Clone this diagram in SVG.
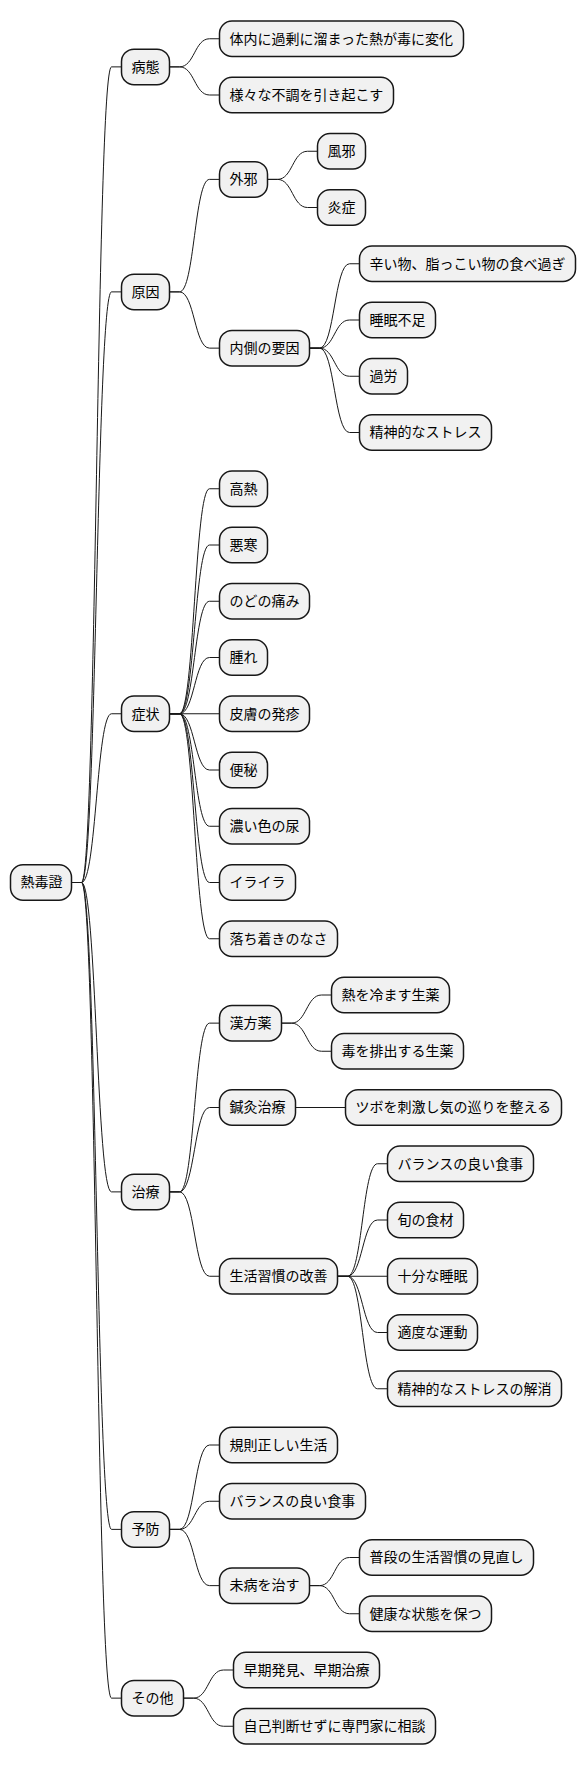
<svg xmlns="http://www.w3.org/2000/svg" width="586" height="1766" viewBox="0 0 586 1766">
<style>
.n rect{fill:#F1F1F1;stroke:#181818;stroke-width:1.5}
.n text{font-family:"Noto Sans CJK JP","Noto Sans CJK SC",sans-serif;font-size:14px;fill:#000}
#edges path{fill:none;stroke:#181818;stroke-width:1}
</style>
<rect width="586" height="1766" fill="#FFFFFF"/>
<g id="edges">
<path d="M71.5 882.5H81.5C96.5 882.5 96.5 66.875 111.5 66.875H121.5"/>
<path d="M71.5 882.5H81.5C96.5 882.5 96.5 291.875 111.5 291.875H121.5"/>
<path d="M71.5 882.5H81.5C96.5 882.5 96.5 713.75 111.5 713.75H121.5"/>
<path d="M71.5 882.5H81.5C96.5 882.5 96.5 1191.875 111.5 1191.875H121.5"/>
<path d="M71.5 882.5H81.5C96.5 882.5 96.5 1529.375 111.5 1529.375H121.5"/>
<path d="M71.5 882.5H81.5C96.5 882.5 96.5 1698.125 111.5 1698.125H121.5"/>
<path d="M169.5 66.875H179.5C194.5 66.875 194.5 38.75 209.5 38.75H219.5"/>
<path d="M169.5 66.875H179.5C194.5 66.875 194.5 95 209.5 95H219.5"/>
<path d="M169.5 291.875H179.5C194.5 291.875 194.5 179.375 209.5 179.375H219.5"/>
<path d="M169.5 291.875H179.5C194.5 291.875 194.5 348.125 209.5 348.125H219.5"/>
<path d="M267.5 179.375H277.5C292.5 179.375 292.5 151.25 307.5 151.25H317.5"/>
<path d="M267.5 179.375H277.5C292.5 179.375 292.5 207.5 307.5 207.5H317.5"/>
<path d="M309.5 348.125H319.5C334.5 348.125 334.5 263.75 349.5 263.75H359.5"/>
<path d="M309.5 348.125H319.5C334.5 348.125 334.5 320 349.5 320H359.5"/>
<path d="M309.5 348.125H319.5C334.5 348.125 334.5 376.25 349.5 376.25H359.5"/>
<path d="M309.5 348.125H319.5C334.5 348.125 334.5 432.5 349.5 432.5H359.5"/>
<path d="M169.5 713.75H179.5C194.5 713.75 194.5 488.75 209.5 488.75H219.5"/>
<path d="M169.5 713.75H179.5C194.5 713.75 194.5 545 209.5 545H219.5"/>
<path d="M169.5 713.75H179.5C194.5 713.75 194.5 601.25 209.5 601.25H219.5"/>
<path d="M169.5 713.75H179.5C194.5 713.75 194.5 657.5 209.5 657.5H219.5"/>
<path d="M169.5 713.75H219.5"/>
<path d="M169.5 713.75H179.5C194.5 713.75 194.5 770 209.5 770H219.5"/>
<path d="M169.5 713.75H179.5C194.5 713.75 194.5 826.25 209.5 826.25H219.5"/>
<path d="M169.5 713.75H179.5C194.5 713.75 194.5 882.5 209.5 882.5H219.5"/>
<path d="M169.5 713.75H179.5C194.5 713.75 194.5 938.75 209.5 938.75H219.5"/>
<path d="M169.5 1191.875H179.5C194.5 1191.875 194.5 1023.125 209.5 1023.125H219.5"/>
<path d="M169.5 1191.875H179.5C194.5 1191.875 194.5 1107.5 209.5 1107.5H219.5"/>
<path d="M169.5 1191.875H179.5C194.5 1191.875 194.5 1276.25 209.5 1276.25H219.5"/>
<path d="M281.5 1023.125H291.5C306.5 1023.125 306.5 995 321.5 995H331.5"/>
<path d="M281.5 1023.125H291.5C306.5 1023.125 306.5 1051.25 321.5 1051.25H331.5"/>
<path d="M295.5 1107.5H345.5"/>
<path d="M337.5 1276.25H347.5C362.5 1276.25 362.5 1163.75 377.5 1163.75H387.5"/>
<path d="M337.5 1276.25H347.5C362.5 1276.25 362.5 1220 377.5 1220H387.5"/>
<path d="M337.5 1276.25H387.5"/>
<path d="M337.5 1276.25H347.5C362.5 1276.25 362.5 1332.5 377.5 1332.5H387.5"/>
<path d="M337.5 1276.25H347.5C362.5 1276.25 362.5 1388.75 377.5 1388.75H387.5"/>
<path d="M169.5 1529.375H179.5C194.5 1529.375 194.5 1445 209.5 1445H219.5"/>
<path d="M169.5 1529.375H179.5C194.5 1529.375 194.5 1501.25 209.5 1501.25H219.5"/>
<path d="M169.5 1529.375H179.5C194.5 1529.375 194.5 1585.625 209.5 1585.625H219.5"/>
<path d="M309.5 1585.625H319.5C334.5 1585.625 334.5 1557.5 349.5 1557.5H359.5"/>
<path d="M309.5 1585.625H319.5C334.5 1585.625 334.5 1613.75 349.5 1613.75H359.5"/>
<path d="M183.5 1698.125H193.5C208.5 1698.125 208.5 1670 223.5 1670H233.5"/>
<path d="M183.5 1698.125H193.5C208.5 1698.125 208.5 1726.25 223.5 1726.25H233.5"/>
</g>
<g id="root" class="n" transform="translate(10.5,864.75)"><rect width="61" height="35.5" rx="12.5"/><text x="10" y="22.5">熱毒證</text></g>
<g id="n-byotai" class="n" transform="translate(121.5,49.125)"><rect width="48" height="35.5" rx="12.5"/><text x="10" y="22.5">病態</text></g>
<g id="n-byotai-1" class="n" transform="translate(219.5,21)"><rect width="244" height="35.5" rx="12.5"/><text x="10" y="22.5">体内に過剰に溜まった熱が毒に変化</text></g>
<g id="n-byotai-2" class="n" transform="translate(219.5,77.25)"><rect width="174" height="35.5" rx="12.5"/><text x="10" y="22.5">様々な不調を引き起こす</text></g>
<g id="n-genin" class="n" transform="translate(121.5,274.125)"><rect width="48" height="35.5" rx="12.5"/><text x="10" y="22.5">原因</text></g>
<g id="n-gaija" class="n" transform="translate(219.5,161.625)"><rect width="48" height="35.5" rx="12.5"/><text x="10" y="22.5">外邪</text></g>
<g id="n-fuja" class="n" transform="translate(317.5,133.5)"><rect width="48" height="35.5" rx="12.5"/><text x="10" y="22.5">風邪</text></g>
<g id="n-ensho" class="n" transform="translate(317.5,189.75)"><rect width="48" height="35.5" rx="12.5"/><text x="10" y="22.5">炎症</text></g>
<g id="n-uchi" class="n" transform="translate(219.5,330.375)"><rect width="90" height="35.5" rx="12.5"/><text x="10" y="22.5">内側の要因</text></g>
<g id="n-uchi-1" class="n" transform="translate(359.5,246)"><rect width="216" height="35.5" rx="12.5"/><text x="10" y="22.5">辛い物、脂っこい物の食べ過ぎ</text></g>
<g id="n-uchi-2" class="n" transform="translate(359.5,302.25)"><rect width="76" height="35.5" rx="12.5"/><text x="10" y="22.5">睡眠不足</text></g>
<g id="n-uchi-3" class="n" transform="translate(359.5,358.5)"><rect width="48" height="35.5" rx="12.5"/><text x="10" y="22.5">過労</text></g>
<g id="n-uchi-4" class="n" transform="translate(359.5,414.75)"><rect width="132" height="35.5" rx="12.5"/><text x="10" y="22.5">精神的なストレス</text></g>
<g id="n-shojo" class="n" transform="translate(121.5,696)"><rect width="48" height="35.5" rx="12.5"/><text x="10" y="22.5">症状</text></g>
<g id="n-shojo-1" class="n" transform="translate(219.5,471)"><rect width="48" height="35.5" rx="12.5"/><text x="10" y="22.5">高熱</text></g>
<g id="n-shojo-2" class="n" transform="translate(219.5,527.25)"><rect width="48" height="35.5" rx="12.5"/><text x="10" y="22.5">悪寒</text></g>
<g id="n-shojo-3" class="n" transform="translate(219.5,583.5)"><rect width="90" height="35.5" rx="12.5"/><text x="10" y="22.5">のどの痛み</text></g>
<g id="n-shojo-4" class="n" transform="translate(219.5,639.75)"><rect width="48" height="35.5" rx="12.5"/><text x="10" y="22.5">腫れ</text></g>
<g id="n-shojo-5" class="n" transform="translate(219.5,696)"><rect width="90" height="35.5" rx="12.5"/><text x="10" y="22.5">皮膚の発疹</text></g>
<g id="n-shojo-6" class="n" transform="translate(219.5,752.25)"><rect width="48" height="35.5" rx="12.5"/><text x="10" y="22.5">便秘</text></g>
<g id="n-shojo-7" class="n" transform="translate(219.5,808.5)"><rect width="90" height="35.5" rx="12.5"/><text x="10" y="22.5">濃い色の尿</text></g>
<g id="n-shojo-8" class="n" transform="translate(219.5,864.75)"><rect width="76" height="35.5" rx="12.5"/><text x="10" y="22.5">イライラ</text></g>
<g id="n-shojo-9" class="n" transform="translate(219.5,921)"><rect width="118" height="35.5" rx="12.5"/><text x="10" y="22.5">落ち着きのなさ</text></g>
<g id="n-chiryo" class="n" transform="translate(121.5,1174.125)"><rect width="48" height="35.5" rx="12.5"/><text x="10" y="22.5">治療</text></g>
<g id="n-kampo" class="n" transform="translate(219.5,1005.375)"><rect width="62" height="35.5" rx="12.5"/><text x="10" y="22.5">漢方薬</text></g>
<g id="n-kampo-1" class="n" transform="translate(331.5,977.25)"><rect width="118" height="35.5" rx="12.5"/><text x="10" y="22.5">熱を冷ます生薬</text></g>
<g id="n-kampo-2" class="n" transform="translate(331.5,1033.5)"><rect width="132" height="35.5" rx="12.5"/><text x="10" y="22.5">毒を排出する生薬</text></g>
<g id="n-shinkyu" class="n" transform="translate(219.5,1089.75)"><rect width="76" height="35.5" rx="12.5"/><text x="10" y="22.5">鍼灸治療</text></g>
<g id="n-shinkyu-1" class="n" transform="translate(345.5,1089.75)"><rect width="216" height="35.5" rx="12.5"/><text x="10" y="22.5">ツボを刺激し気の巡りを整える</text></g>
<g id="n-seikatsu" class="n" transform="translate(219.5,1258.5)"><rect width="118" height="35.5" rx="12.5"/><text x="10" y="22.5">生活習慣の改善</text></g>
<g id="n-seikatsu-1" class="n" transform="translate(387.5,1146)"><rect width="146" height="35.5" rx="12.5"/><text x="10" y="22.5">バランスの良い食事</text></g>
<g id="n-seikatsu-2" class="n" transform="translate(387.5,1202.25)"><rect width="76" height="35.5" rx="12.5"/><text x="10" y="22.5">旬の食材</text></g>
<g id="n-seikatsu-3" class="n" transform="translate(387.5,1258.5)"><rect width="90" height="35.5" rx="12.5"/><text x="10" y="22.5">十分な睡眠</text></g>
<g id="n-seikatsu-4" class="n" transform="translate(387.5,1314.75)"><rect width="90" height="35.5" rx="12.5"/><text x="10" y="22.5">適度な運動</text></g>
<g id="n-seikatsu-5" class="n" transform="translate(387.5,1371)"><rect width="174" height="35.5" rx="12.5"/><text x="10" y="22.5">精神的なストレスの解消</text></g>
<g id="n-yobo" class="n" transform="translate(121.5,1511.625)"><rect width="48" height="35.5" rx="12.5"/><text x="10" y="22.5">予防</text></g>
<g id="n-yobo-1" class="n" transform="translate(219.5,1427.25)"><rect width="118" height="35.5" rx="12.5"/><text x="10" y="22.5">規則正しい生活</text></g>
<g id="n-yobo-2" class="n" transform="translate(219.5,1483.5)"><rect width="146" height="35.5" rx="12.5"/><text x="10" y="22.5">バランスの良い食事</text></g>
<g id="n-mibyo" class="n" transform="translate(219.5,1567.875)"><rect width="90" height="35.5" rx="12.5"/><text x="10" y="22.5">未病を治す</text></g>
<g id="n-mibyo-1" class="n" transform="translate(359.5,1539.75)"><rect width="174" height="35.5" rx="12.5"/><text x="10" y="22.5">普段の生活習慣の見直し</text></g>
<g id="n-mibyo-2" class="n" transform="translate(359.5,1596)"><rect width="132" height="35.5" rx="12.5"/><text x="10" y="22.5">健康な状態を保つ</text></g>
<g id="n-sonota" class="n" transform="translate(121.5,1680.375)"><rect width="62" height="35.5" rx="12.5"/><text x="10" y="22.5">その他</text></g>
<g id="n-sonota-1" class="n" transform="translate(233.5,1652.25)"><rect width="146" height="35.5" rx="12.5"/><text x="10" y="22.5">早期発見、早期治療</text></g>
<g id="n-sonota-2" class="n" transform="translate(233.5,1708.5)"><rect width="202" height="35.5" rx="12.5"/><text x="10" y="22.5">自己判断せずに専門家に相談</text></g>
</svg>
